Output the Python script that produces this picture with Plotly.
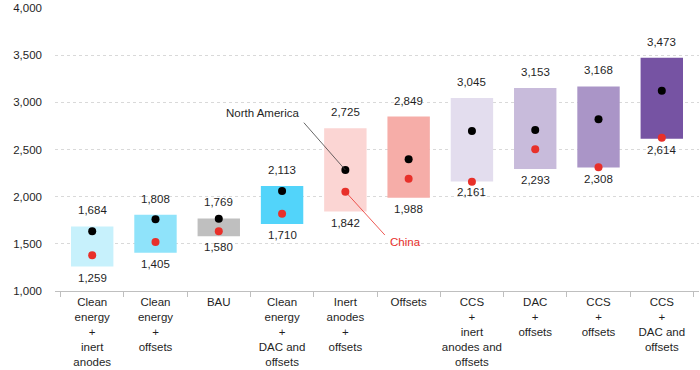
import plotly.graph_objects as go

categories = ["Clean<br>energy<br>+<br>inert<br>anodes", "Clean<br>energy<br>+<br>offsets", "BAU",
              "Clean<br>energy<br>+<br>DAC and<br>offsets", "Inert<br>anodes<br>+<br>offsets", "Offsets",
              "CCS<br>+<br>inert<br>anodes and<br>offsets", "DAC<br>+<br>offsets", "CCS<br>+<br>offsets",
              "CCS<br>+<br>DAC and<br>offsets"]
high_values = [1684, 1808, 1769, 2113, 2725, 2849, 3045, 3153, 3168, 3473]
low_values = [1259, 1405, 1580, 1710, 1842, 1988, 2161, 2293, 2308, 2614]
north_america = [1633, 1760, 1766, 2060, 2283, 2396, 2696, 2707, 2820, 3123]
china = [1378, 1519, 1633, 1819, 2053, 2190, 2159, 2502, 2311, 2625]
bar_colors = ["#C7F1FC", "#8FE3FA", "#BFBFBF", "#52D4FA", "#FBD5D3", "#F6ADA8",
              "#E3DDEE", "#C8BBDB", "#AA95C7", "#7653A3"]

FONT = "Arial, Liberation Sans, sans-serif"
TXT = "#1f1f1f"

fig = go.Figure()
fig.add_trace(go.Bar(
    x=categories, y=[h - l for h, l in zip(high_values, low_values)], base=low_values,
    marker=dict(color=bar_colors, line=dict(width=0)), width=0.67, showlegend=False,
    hoverinfo="skip"))
fig.add_trace(go.Scatter(x=categories, y=north_america, mode="markers", name="North America",
                         marker=dict(color="#000000", size=8), showlegend=False))
fig.add_trace(go.Scatter(x=categories, y=china, mode="markers", name="China",
                         marker=dict(color="#E8302A", size=8), showlegend=False))

annotations = []
for c, h, l in zip(categories, high_values, low_values):
    annotations.append(dict(x=c, y=h, text=f"{h:,}", showarrow=False, yanchor="bottom",
                            yshift=8, font=dict(family=FONT, size=11.5, color=TXT)))
    annotations.append(dict(x=c, y=l, text=f"{l:,}", showarrow=False, yanchor="top",
                            yshift=-3, font=dict(family=FONT, size=11.5, color=TXT)))

idx = 4
# North America callout
annotations.append(dict(x=categories[idx], y=north_america[idx], text=" ", showarrow=True,
                        arrowhead=0, arrowwidth=0.8, arrowcolor="#404040", ax=-43, ay=-49,
                        font=dict(size=1)))
annotations.append(dict(x=categories[idx], y=north_america[idx], text="North America", showarrow=True,
                        arrowcolor="rgba(0,0,0,0)", arrowwidth=0.1, ax=-83, ay=-57,
                        font=dict(family=FONT, size=11.5, color=TXT)))
# China callout
annotations.append(dict(x=categories[idx], y=china[idx], text=" ", showarrow=True,
                        arrowhead=0, arrowwidth=0.8, arrowcolor="#E8302A", ax=41, ay=45,
                        font=dict(size=1)))
annotations.append(dict(x=categories[idx], y=china[idx], text="China", showarrow=True,
                        arrowcolor="rgba(0,0,0,0)", arrowwidth=0.1, ax=60, ay=50,
                        font=dict(family=FONT, size=11.5, color="#E8302A")))

fig.update_layout(
    width=700, height=370,
    margin=dict(l=55, r=1, t=8, b=79),
    plot_bgcolor="white", paper_bgcolor="white",
    font=dict(family=FONT, size=11.5, color=TXT),
    annotations=annotations,
    bargap=0.33,
)
fig.update_xaxes(type="category", tickson="boundaries", ticks="outside", ticklen=5,
                 tickcolor="#BFBFBF", showline=True, linecolor="#BFBFBF", linewidth=1,
                 showgrid=False, tickangle=0, automargin=False,
                 tickfont=dict(family=FONT, size=11.5, color=TXT))
fig.update_yaxes(range=[1000, 4000], dtick=500, tickformat=",", showgrid=True,
                 gridcolor="#D9D9D9", griddash="dot", gridwidth=1, zeroline=False,
                 ticks="", ticklabelstandoff=12, automargin=False,
                 tickfont=dict(family=FONT, size=11.5, color=TXT))

fig.write_html("out.html", config={"displayModeBar": False},
               post_script="document.body.style.margin='0px';")
